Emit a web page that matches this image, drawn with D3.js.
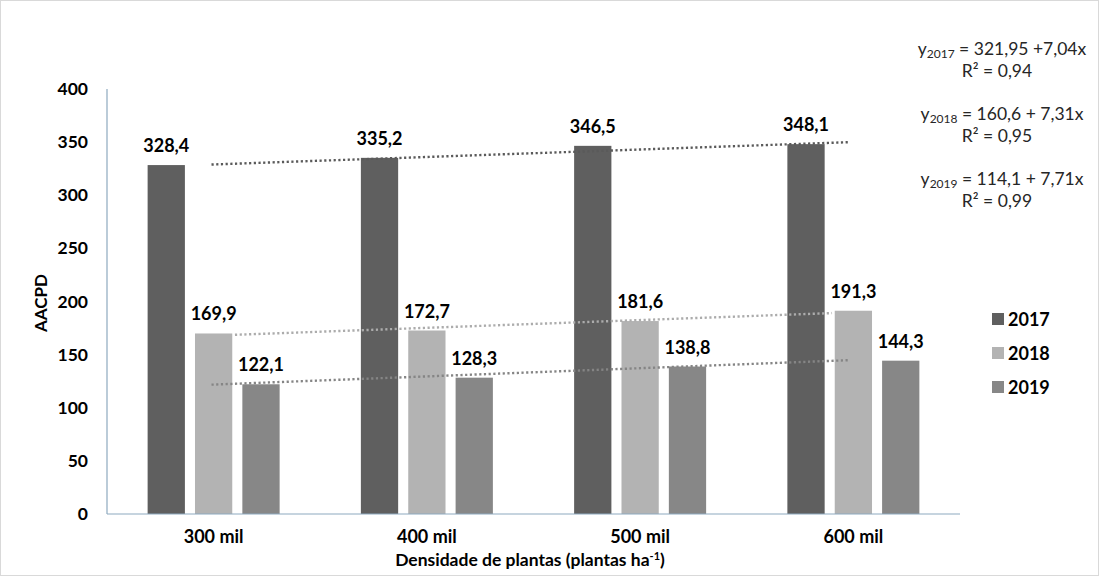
<!DOCTYPE html>
<html><head><meta charset="utf-8">
<script src="https://cdn.jsdelivr.net/npm/d3@7"></script>
<style>body{margin:0;background:#fff;} svg{display:block;font-family:Lato,"Open Sans",sans-serif;}</style>
</head><body>
<svg id="c" width="1103" height="577"></svg>
<script>
const categories = ["300 mil","400 mil","500 mil","600 mil"];
const seriesNames = ["2017","2018","2019"];
const values2017 = [328.4,335.2,346.5,348.1];
const values2018 = [169.9,172.7,181.6,191.3];
const values2019 = [122.1,128.3,138.8,144.3];
const labels2017 = ["328,4","335,2","346,5","348,1"];
const labels2018 = ["169,9","172,7","181,6","191,3"];
const labels2019 = ["122,1","128,3","138,8","144,3"];
const intercepts = [321.95,160.6,114.1];
const slopes = [7.04,7.31,7.71];
const trendFrom = [0.99,1.1,0.99];
const trendTo = [3.98,3.9,3.98];
const yTicks = [0,50,100,150,200,250,300,350,400];
const equations = [["2017"," = 321,95 +7,04x","R² = 0,94"],["2018"," = 160,6 + 7,31x","R² = 0,95"],["2019"," = 114,1 + 7,71x","R² = 0,99"]];
const colors = ["#5f5f5f","#b3b3b3","#878787"];
const trendColors = ["#5a5a5a","#acacac","#858585"];

const allValues = [values2017,values2018,values2019];
const allLabels = [labels2017,labels2018,labels2019];

const svg = d3.select("#c");
svg.append("rect").attr("x",0.5).attr("y",0.5).attr("width",1098).attr("height",575)
  .attr("fill","#fff").attr("stroke","#d9d9d9");

const pLeft=107,pRight=960,pTop=89,pBottom=514;
const x = d3.scaleBand().domain(categories).range([pLeft,pRight]).padding(0);
const xs = d3.scaleBand().domain(seriesNames).range([-66,66]).paddingInner(0.213).paddingOuter(0);
const y = d3.scaleLinear().domain([0,400]).range([pBottom,pTop]);
const xc = d3.scaleLinear().domain([0.5,4.5]).range([pLeft,pRight]);

svg.append("g").selectAll("text").data(yTicks).join("text")
  .attr("x",88).attr("y",d=>y(d)+6).attr("text-anchor","end")
  .attr("font-size",17.5).attr("font-weight","bold").attr("fill","#000").text(d=>d);

seriesNames.forEach((s,si)=>{
  const g = svg.append("g");
  g.selectAll("rect").data(allValues[si]).join("rect")
    .attr("x",(d,i)=>x(categories[i])+x.bandwidth()/2+xs(s))
    .attr("y",d=>y(d)).attr("width",xs.bandwidth()).attr("height",d=>pBottom-y(d))
    .attr("fill",colors[si]);
  g.selectAll("text").data(allValues[si]).join("text")
    .attr("x",(d,i)=>x(categories[i])+x.bandwidth()/2+xs(s)+xs.bandwidth()/2)
    .attr("y",d=>y(d)-13).attr("text-anchor","middle")
    .attr("font-size",18).attr("font-weight","bold").attr("fill","#000")
    .text((d,i)=>allLabels[si][i]);
});

seriesNames.forEach((s,si)=>{
  const pts=[trendFrom[si],trendTo[si]];
  svg.append("line")
    .attr("x1",xc(pts[0])).attr("x2",xc(pts[1]))
    .attr("y1",y(intercepts[si]+slopes[si]*pts[0])).attr("y2",y(intercepts[si]+slopes[si]*pts[1]))
    .attr("stroke",trendColors[si]).attr("stroke-width",2.4)
    .attr("stroke-dasharray","2.2,2.5");
});

svg.append("line").attr("x1",pLeft).attr("x2",pLeft).attr("y1",pTop).attr("y2",pBottom)
  .attr("stroke","#8ea9bf").attr("stroke-width",1.2);
svg.append("line").attr("x1",pLeft).attr("x2",pRight).attr("y1",pBottom).attr("y2",pBottom)
  .attr("stroke","#8ea9bf").attr("stroke-width",1.2);

svg.append("g").selectAll("text").data(categories).join("text")
  .attr("x",d=>x(d)+x.bandwidth()/2).attr("y",543).attr("text-anchor","middle")
  .attr("font-size",18).attr("font-weight","bold").attr("fill","#000").text(d=>d);

const xt = svg.append("text").attr("x",530).attr("y",566).attr("text-anchor","middle")
  .attr("font-size",17.5).attr("font-weight","bold").attr("fill","#000");
xt.append("tspan").text("Densidade de plantas (plantas ha");
xt.append("tspan").attr("dy",-6).attr("font-size",11).text("-1");
xt.append("tspan").attr("dy",6).text(")");
svg.append("text").attr("transform","translate(47,303) rotate(-90)").attr("text-anchor","middle")
  .attr("font-size",17).attr("font-weight","bold").attr("fill","#000").text("AACPD");

const lg = svg.append("g");
seriesNames.forEach((s,si)=>{
  lg.append("rect").attr("x",992).attr("y",313+si*34).attr("width",12).attr("height",12).attr("fill",colors[si]);
  lg.append("text").attr("x",1008).attr("y",326+si*34).attr("font-size",18).attr("font-weight","bold")
    .attr("fill","#000").text(s);
});

equations.forEach((e,i)=>{
  const by = 55+i*65;
  const t = svg.append("text").attr("x",1002).attr("y",by).attr("text-anchor","middle")
    .attr("font-size",17.5).attr("fill","#262626");
  t.append("tspan").text("y");
  t.append("tspan").attr("dy",3).attr("font-size",12).text(e[0]);
  t.append("tspan").attr("dy",-3).text(e[1]);
  svg.append("text").attr("x",997).attr("y",by+22).attr("text-anchor","middle")
    .attr("font-size",17.5).attr("fill","#262626").text(e[2]);
});
</script>
</body></html>
